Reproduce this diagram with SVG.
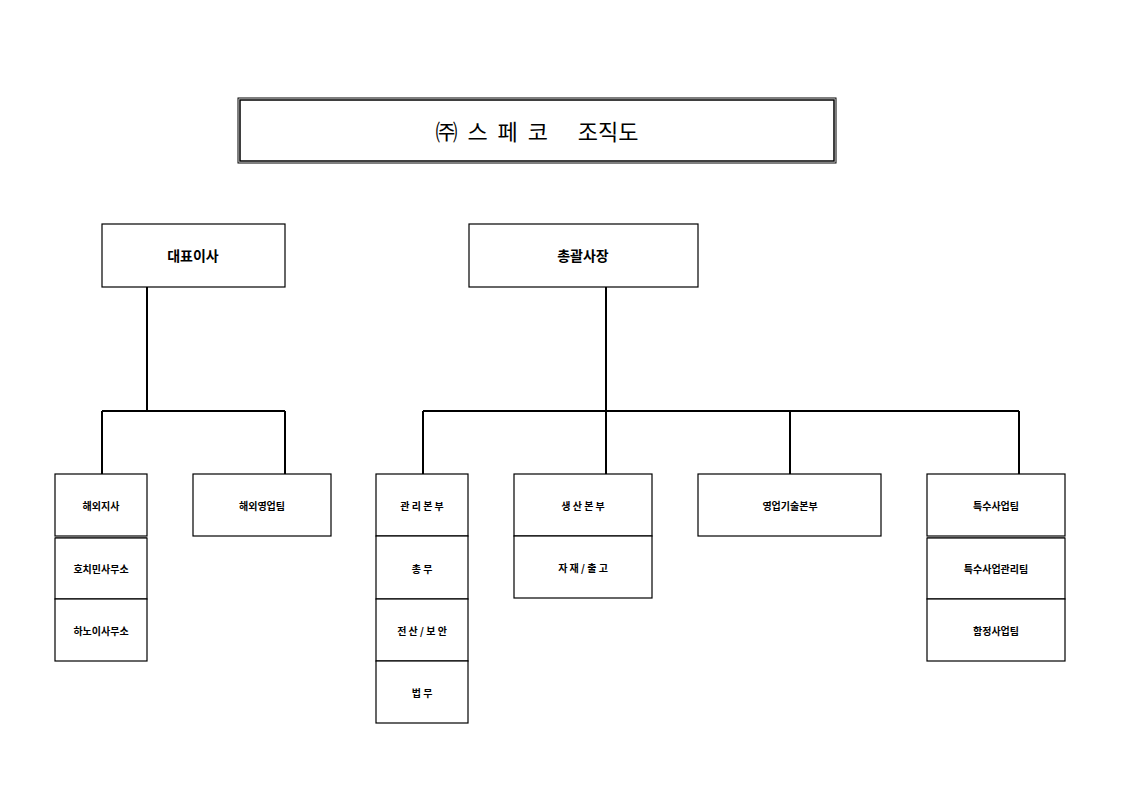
<svg xmlns="http://www.w3.org/2000/svg" width="1122" height="793" viewBox="0 0 1122 793">
<style>
.b{fill:#fff;stroke:#000;stroke-width:1.2}
.t{font-family:"Noto Sans CJK KR",sans-serif;font-size:10px;font-weight:bold;text-anchor:middle;dominant-baseline:central}
.h{font-family:"Noto Sans CJK KR",sans-serif;font-size:14px;font-weight:bold;text-anchor:middle;dominant-baseline:central}
.c{fill:none;stroke:#000;stroke-width:2}
</style>
<rect width="1122" height="793" fill="#fff"/>
<g id="title">
<rect x="238" y="98" width="598" height="65" fill="none" stroke="#000" stroke-width="1"/>
<rect x="240" y="100" width="594" height="61" fill="none" stroke="#000" stroke-width="1.5"/>
<text x="537" y="130" font-family="'Noto Sans CJK KR',sans-serif" font-size="22" word-spacing="5" text-anchor="middle" dominant-baseline="central" xml:space="preserve">㈜ 스 페 코   조직도</text>
</g>
<g id="connectors">
<path class="c" d="M147 287V411M102 411H285M102 411V474M285 411V474"/>
<path class="c" d="M606 287V411M423 411H1019M423 411V474M606 411V474M790 411V474M1019 411V474"/>
</g>
<g id="ceo"><rect class="b" x="102" y="224" width="183" height="63" stroke-width="2"/><text class="h" x="193" y="255">대표이사</text></g>
<g id="president"><rect class="b" x="469" y="224" width="229" height="63" stroke-width="2"/><text class="h" x="583" y="255">총괄사장</text></g>
<g id="overseas">
<rect class="b" x="55" y="474" width="92" height="62"/><text class="t" x="101" y="505">해외지사</text>
<line x1="55" y1="538" x2="147" y2="538" stroke="#000"/>
<rect class="b" x="55" y="538" width="92" height="61"/><text class="t" x="101" y="568">호치민사무소</text>
<rect class="b" x="55" y="599" width="92" height="62"/><text class="t" x="101" y="630">하노이사무소</text>
</g>
<g id="sales"><rect class="b" x="193" y="474" width="138" height="62"/><text class="t" x="262" y="505">해외영업팀</text></g>
<g id="admin">
<rect class="b" x="376" y="474" width="92" height="62"/><text class="t" x="422" y="505">관 리 본 부</text>
<rect class="b" x="376" y="536" width="92" height="63"/><text class="t" x="422" y="568">총 무</text>
<rect class="b" x="376" y="599" width="92" height="62"/><text class="t" x="422" y="630">전 산 / 보 안</text>
<rect class="b" x="376" y="661" width="92" height="62"/><text class="t" x="422" y="692">법 무</text>
</g>
<g id="production">
<rect class="b" x="514" y="474" width="138" height="62"/><text class="t" x="583" y="505">생 산 본 부</text>
<rect class="b" x="514" y="536" width="138" height="62"/><text class="t" x="583" y="567">자 재 / 출 고</text>
</g>
<g id="tech"><rect class="b" x="698" y="474" width="183" height="62"/><text class="t" x="790" y="505">영업기술본부</text></g>
<g id="special">
<rect class="b" x="927" y="474" width="138" height="62"/><text class="t" x="996" y="505">특수사업팀</text>
<line x1="927" y1="538" x2="1065" y2="538" stroke="#000"/>
<rect class="b" x="927" y="538" width="138" height="61"/><text class="t" x="996" y="568">특수사업관리팀</text>
<rect class="b" x="927" y="599" width="138" height="62"/><text class="t" x="996" y="630">함정사업팀</text>
</g>
</svg>
